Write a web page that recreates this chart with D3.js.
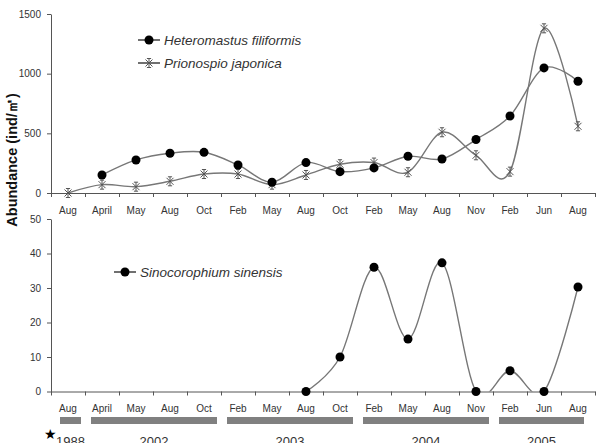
<!DOCTYPE html>
<html>
<head>
<meta charset="utf-8">
<script src="https://cdn.jsdelivr.net/npm/d3@7"></script>
<style>
  body { margin: 0; background: #fff; }
  svg { font-family: "Liberation Sans", Arial, sans-serif; }
</style>
</head>
<body>
<div id="chart"></div>
<script>
let months = ["Aug", "April", "May", "Aug", "Oct", "Feb", "May", "Aug", "Oct",
    "Feb", "May", "Aug", "Nov", "Feb", "Jun", "Aug"];

let heteromastus = [null, 151, 277, 333, 341, 235, 90, 255, 179, 210, 308, 285, 448, 645, 1048, 936];
let prionospio = [0, 70, 53, 98, 159, 159, 70, 151, 241, 255, 174, 509, 316, 179, 1380, 559];
let sinocorophium = [null, null, null, null, null, null, null, 0, 10, 36, 15.2, 37.3, 0, 6, 0, 30.3];

let years = ["1988", "2002", "2003", "2004", "2005"];
let yearFirst = [0, 1, 5, 9, 13];
let yearLast = [0, 4, 8, 12, 15];

let topTicks = [0, 500, 1000, 1500];
let bottomTicks = [0, 10, 20, 30, 40, 50];

let width = 600, height = 443;
let left = 51, right = 595;

let svg = d3.select("#chart").append("svg")
    .attr("width", width)
    .attr("height", height);

let idx = d3.range(months.length);

let x = d3.scaleBand().domain(idx).range([left, right]);
let xEdge = d3.scaleLinear().domain([0, months.length]).range([left, right]);

let yTop = d3.scaleLinear().domain([0, 1500]).range([193, 14]);
let yBot = d3.scaleLinear().domain([0, 50]).range([391.5, 219]);

let lineColor = "#777";
let textColor = "#333";

function cx(i) { return x(i) + x.bandwidth() / 2; }

// clip paths so the smoothed curves do not go under the x axis
let defs = svg.append("defs");
defs.append("clipPath").attr("id", "clipTop")
    .append("rect").attr("x", left).attr("y", 0).attr("width", right - left).attr("height", yTop(0));
defs.append("clipPath").attr("id", "clipBot")
    .append("rect").attr("x", left).attr("y", 200).attr("width", right - left).attr("height", yBot(0) - 200);

function drawAxes(y, ticks, labelY) {
    let ya = svg.append("g")
        .attr("transform", `translate(${left},0)`)
        .call(d3.axisLeft(y).tickValues(ticks).tickFormat(d3.format("d"))
            .tickSize(4).tickSizeOuter(0).tickPadding(6));
    ya.select(".domain").attr("stroke", "#555");
    ya.selectAll(".tick line").attr("stroke", "#555");
    ya.selectAll(".tick text").attr("fill", textColor).style("font-size", "10px");

    let xa = svg.append("g")
        .attr("transform", `translate(0,${y(0)})`)
        .call(d3.axisBottom(xEdge).tickValues(d3.range(months.length + 1))
            .tickFormat("").tickSize(4).tickSizeOuter(0));
    xa.select(".domain").attr("stroke", "#555");
    xa.selectAll(".tick line").attr("stroke", "#555");

    svg.append("g").selectAll("text")
        .data(idx)
        .join("text")
        .attr("x", d => cx(d))
        .attr("y", labelY)
        .attr("text-anchor", "middle")
        .attr("fill", textColor)
        .style("font-size", "10px")
        .text(d => months[d]);
}

drawAxes(yTop, topTicks, 214);
drawAxes(yBot, bottomTicks, 412);

function curveLine(y) {
    return d3.line()
        .defined(d => d[1] != null)
        .x(d => cx(d[0]))
        .y(d => y(d[1]))
        .curve(d3.curveCardinal.tension(0));
}

function starPath(s) {
    return `M${-s},${-s}L${s},${s}M${-s},${s}L${s},${-s}M0,${-s - 1}L0,${s + 1}` +
        `M${-s * 0.6},${-s - 1}L${s * 0.6},${-s - 1}M${-s * 0.6},${s + 1}L${s * 0.6},${s + 1}`;
}

// top panel lines
let topG = svg.append("g").attr("clip-path", "url(#clipTop)");
topG.append("path")
    .datum(prionospio.map((v, i) => [i, v]).filter(d => d[1] != null))
    .attr("d", curveLine(yTop))
    .attr("fill", "none").attr("stroke", lineColor).attr("stroke-width", 1.4);
topG.append("path")
    .datum(heteromastus.map((v, i) => [i, v]).filter(d => d[1] != null))
    .attr("d", curveLine(yTop))
    .attr("fill", "none").attr("stroke", lineColor).attr("stroke-width", 1.4);

svg.append("g").selectAll("path")
    .data(prionospio.map((v, i) => [i, v]).filter(d => d[1] != null))
    .join("path")
    .attr("transform", d => `translate(${cx(d[0])},${yTop(d[1])})`)
    .attr("d", starPath(3.5))
    .attr("fill", "none").attr("stroke", "#555").attr("stroke-width", 1);

svg.append("g").selectAll("circle")
    .data(heteromastus.map((v, i) => [i, v]).filter(d => d[1] != null))
    .join("circle")
    .attr("cx", d => cx(d[0]))
    .attr("cy", d => yTop(d[1]))
    .attr("r", 4.5)
    .attr("fill", "#000");

// bottom panel line
svg.append("g").attr("clip-path", "url(#clipBot)")
    .append("path")
    .datum(sinocorophium.map((v, i) => [i, v]).filter(d => d[1] != null))
    .attr("d", curveLine(yBot))
    .attr("fill", "none").attr("stroke", lineColor).attr("stroke-width", 1.4);

svg.append("g").selectAll("circle")
    .data(sinocorophium.map((v, i) => [i, v]).filter(d => d[1] != null))
    .join("circle")
    .attr("cx", d => cx(d[0]))
    .attr("cy", d => yBot(d[1]))
    .attr("r", 4.5)
    .attr("fill", "#000");

// legends
function legendItem(lx, ly, name, marker) {
    let g = svg.append("g").attr("transform", `translate(${lx},${ly})`);
    g.append("line").attr("x1", 0).attr("x2", 22).attr("stroke", "#333").attr("stroke-width", 1.4);
    if (marker == "circle") {
        g.append("circle").attr("cx", 11).attr("r", 4.5).attr("fill", "#000");
    } else {
        g.append("path").attr("transform", "translate(11,0)").attr("d", starPath(3.5))
            .attr("fill", "none").attr("stroke", "#555");
    }
    g.append("text").attr("x", 26).attr("y", 4.5)
        .attr("fill", textColor)
        .style("font-size", "13.5px").style("font-style", "italic")
        .text(name);
}
legendItem(138, 40, "Heteromastus filiformis", "circle");
legendItem(138, 63, "Prionospio japonica", "star");
legendItem(114, 272, "Sinocorophium sinensis", "circle");

// y label
svg.append("text")
    .attr("transform", "translate(17,160) rotate(-90)")
    .attr("text-anchor", "middle")
    .attr("fill", "#111")
    .style("font-size", "14.5px")
    .style("font-weight", "600")
    .text("Abundance (ind/㎡)");

// year bars
let barL = yearFirst.map((f, i) => i == 0 ? x(f) + 9 : x(f) + 6);
let barR = yearLast.map((l, i) => i == years.length - 1 ? cx(l) + 6 : x(l) + x.bandwidth() - 4);

svg.append("g").selectAll("rect")
    .data(years)
    .join("rect")
    .attr("x", (d, i) => barL[i])
    .attr("y", 417)
    .attr("width", (d, i) => barR[i] - barL[i])
    .attr("height", 7)
    .attr("fill", "#808080");

svg.append("g").selectAll("text")
    .data(years)
    .join("text")
    .attr("x", (d, i) => (barL[i] + barR[i]) / 2)
    .attr("y", 446)
    .attr("text-anchor", "middle")
    .attr("fill", textColor)
    .style("font-size", "13px")
    .text(d => d);

svg.append("text")
    .attr("x", 50).attr("y", 439)
    .attr("text-anchor", "middle")
    .attr("fill", "#000")
    .style("font-size", "14px")
    .text("★");
</script>
</body>
</html>
